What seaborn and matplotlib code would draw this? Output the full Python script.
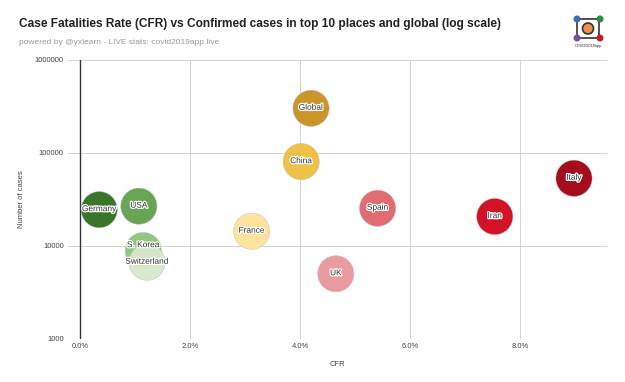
import numpy as np
import pandas as pd
import matplotlib
matplotlib.use('Agg')
import matplotlib.pyplot as plt
import matplotlib.patheffects as pe
from matplotlib.patches import Circle, FancyBboxPatch
import seaborn as sns

# data
places = ['Global', 'China', 'Italy', 'Iran', 'Spain', 'Germany', 'USA',
          'France', 'S. Korea', 'Switzerland', 'UK']
cfr = [4.20, 4.02, 8.98, 7.54, 5.41, 0.35, 1.07, 3.12, 1.15, 1.22, 4.65]
cases = [302000, 80600, 53300, 20650, 25350, 24500, 26700, 14350, 8900, 6650, 5000]
colors = ['#c8911e', '#efbe3c', '#a0000f', '#d20519', '#e1646a', '#2f6f1e',
          '#5fa04b', '#fde296', '#8cc47a', '#d7e8cd', '#e8969b']
y_ticks = [1000, 10000, 100000, 1000000]
x_ticks = [0, 2, 4, 6, 8]

df = pd.DataFrame({'place': places, 'cfr': cfr, 'cases': cases})
palette = dict(zip(places, colors))

sns.set_theme(style='white')
plt.rcParams['font.family'] = ['Liberation Sans', 'DejaVu Sans']

fig = plt.figure(figsize=(6.25, 3.82), dpi=100)
ax = fig.add_axes([68 / 625, 1 - 338.7 / 382, (607 - 68) / 625, (338.7 - 60) / 382])

sns.scatterplot(data=df, x='cfr', y='cases', hue='place', palette=palette,
                s=680, linewidth=0.3, edgecolor='#bbbbbb', alpha=0.95,
                legend=False, ax=ax, zorder=3)

ax.set_yscale('log')
ax.set_ylim(1000, 1000000)
ax.set_xlim(-0.218, 9.58)
ax.set_yticks(y_ticks)
ax.set_yticklabels([str(v) for v in y_ticks])
ax.minorticks_off()
ax.set_xticks(x_ticks)
ax.set_xticklabels([f'{v:.1f}%' for v in x_ticks])
ax.tick_params(length=0, labelsize=5.5, labelcolor='#444444', pad=3)
ax.grid(True, color='#d4d4d4', linewidth=0.7)
ax.set_axisbelow(True)
for sp in ax.spines.values():
    sp.set_visible(False)
ax.axvline(0, color='#333333', linewidth=1.0, zorder=2)

ax.set_xlabel('CFR', fontsize=5.5, color='#444444', labelpad=8)
ax.set_ylabel('Number of cases', fontsize=5.5, color='#444444', labelpad=7)

# bubble labels
for name, x, y in zip(places, cfr, cases):
    dy = 3.5 if name == 'S. Korea' else 0
    ax.annotate(name, (x, y), xytext=(0, dy), textcoords='offset points',
                ha='center', va='center', fontsize=6, color='#333333', zorder=5,
                path_effects=[pe.withStroke(linewidth=1.8, foreground='white')])

fig.text(19 / 625, 1 - 24 / 382, 'Case Fatalities Rate (CFR) vs Confirmed cases in top 10 places and global (log scale)',
         fontsize=8.6, fontweight='bold', color='#222222', va='center')
fig.text(19 / 625, 1 - 42 / 382, 'powered by @yxlearn - LIVE stats: covid2019app.live',
         fontsize=6, color='#999999', va='center')

# small logo in the top right corner
lg = fig.add_axes([570 / 625, 1 - 50 / 382, 36 / 625, 36 / 382])
lg.set_xlim(0, 36)
lg.set_ylim(0, 36)
lg.set_aspect('equal')
lg.axis('off')
lg.add_patch(FancyBboxPatch((7, 12), 22, 19, boxstyle='round,pad=0,rounding_size=3',
                            fill=False, edgecolor='#333333', linewidth=1.2))
lg.add_patch(Circle((18, 21.5), 5.5, facecolor='#f0904f', edgecolor='#333333', linewidth=1.2))
for cx, cy, c in [(7, 31, '#3a6fb0'), (30, 31, '#2e8b3e'), (7, 12, '#7b4fa0'), (30, 12, '#c0202a')]:
    lg.add_patch(Circle((cx, cy), 2.8, color=c))
lg.text(18, 3.5, 'COVID2019app', fontsize=2.8, ha='center', va='center', color='#333333')

fig.savefig('out.png', dpi=100)
